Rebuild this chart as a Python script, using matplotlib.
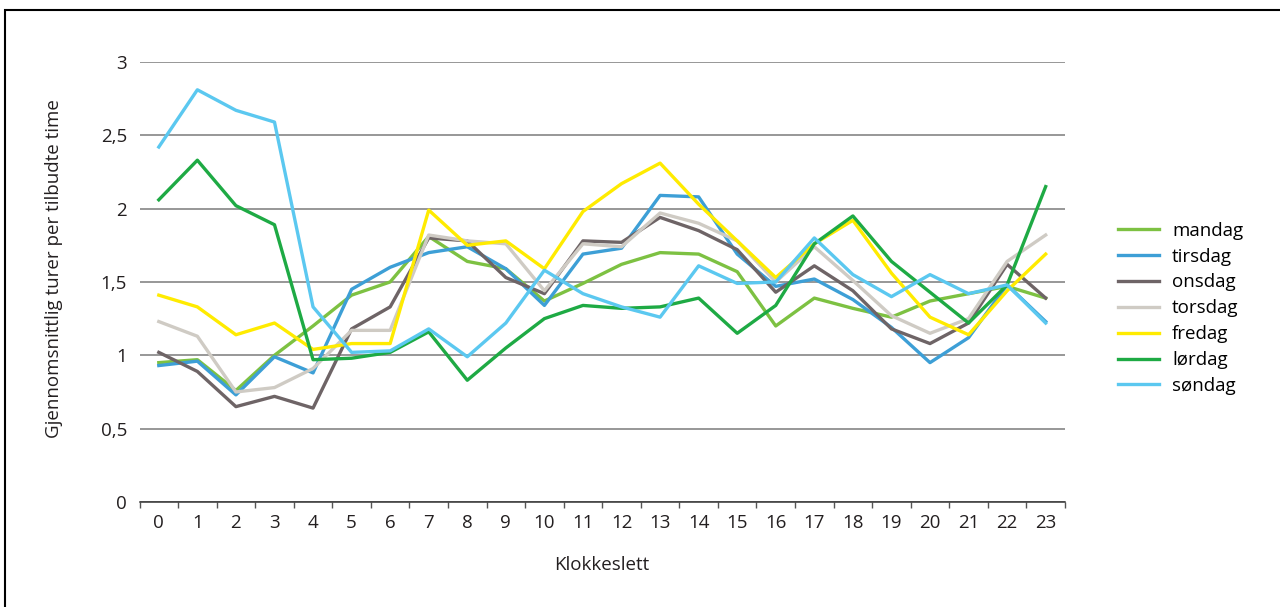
import matplotlib.pyplot as plt
from matplotlib.patches import Rectangle
from matplotlib.ticker import FixedLocator, FuncFormatter

plt.rcParams['font.family'] = ['Open Sans', 'DejaVu Sans']

hours = list(range(24))

mandag = [0.95, 0.97, 0.76, 1.00, 1.20, 1.41, 1.50, 1.81, 1.64, 1.59, 1.37, 1.49,
          1.62, 1.70, 1.69, 1.57, 1.20, 1.39, 1.32, 1.26, 1.37, 1.42, 1.47, 1.39]
tirsdag = [0.93, 0.96, 0.73, 0.99, 0.88, 1.45, 1.60, 1.70, 1.74, 1.59, 1.34, 1.69,
           1.73, 2.09, 2.08, 1.69, 1.47, 1.52, 1.38, 1.19, 0.95, 1.12, 1.48, 1.23]
onsdag = [1.02, 0.89, 0.65, 0.72, 0.64, 1.18, 1.33, 1.80, 1.78, 1.53, 1.42, 1.78,
          1.77, 1.94, 1.85, 1.72, 1.43, 1.61, 1.44, 1.18, 1.08, 1.22, 1.62, 1.39]
torsdag = [1.23, 1.13, 0.75, 0.78, 0.91, 1.17, 1.17, 1.82, 1.78, 1.76, 1.44, 1.76,
           1.74, 1.97, 1.90, 1.78, 1.50, 1.74, 1.51, 1.27, 1.15, 1.25, 1.64, 1.82]
fredag = [1.41, 1.33, 1.14, 1.22, 1.04, 1.08, 1.08, 1.99, 1.75, 1.78, 1.59, 1.98,
          2.17, 2.31, 2.03, 1.78, 1.53, 1.76, 1.92, 1.56, 1.26, 1.14, 1.44, 1.69]
lordag = [2.06, 2.33, 2.02, 1.89, 0.97, 0.98, 1.02, 1.16, 0.83, 1.05, 1.25, 1.34,
          1.32, 1.33, 1.39, 1.15, 1.34, 1.76, 1.95, 1.64, 1.43, 1.22, 1.48, 2.15]
sondag = [2.42, 2.81, 2.67, 2.59, 1.33, 1.02, 1.03, 1.18, 0.99, 1.22, 1.58, 1.42,
          1.33, 1.26, 1.61, 1.49, 1.50, 1.80, 1.55, 1.40, 1.55, 1.42, 1.48, 1.22]

series = [
    ("mandag", mandag, "#7dc142"),
    ("tirsdag", tirsdag, "#3d9fd6"),
    ("onsdag", onsdag, "#6e6466"),
    ("torsdag", torsdag, "#cfcbc4"),
    ("fredag", fredag, "#ffeb00"),
    ("lørdag", lordag, "#1eaa44"),
    ("søndag", sondag, "#5bc8f0"),
]

fs = 13.5
txt = "#231f20"

fig = plt.figure(figsize=(12.8, 6.07), dpi=100)
ax = fig.add_axes([0.109, 0.173, 0.723, 0.725])

for name, vals, col in series:
    ax.plot(hours, vals, color=col, lw=2.4, label=name)

ax.set_xlim(-0.5, 23.5)
ax.set_ylim(0, 3)
ax.set_yticks([0, 0.5, 1, 1.5, 2, 2.5, 3])
ax.yaxis.set_major_formatter(FuncFormatter(lambda v, p: f"{v:g}".replace(".", ",")))
ax.yaxis.grid(True, color="#7a7a7a", lw=1.1)
ax.set_axisbelow(True)
ax.tick_params(axis='y', length=0, pad=9, labelsize=fs, colors=txt)
ax.set_xticks(hours)
ax.xaxis.set_minor_locator(FixedLocator([h - 0.5 for h in range(25)]))
ax.tick_params(axis='x', which='major', length=0, pad=9, labelsize=fs, colors=txt)
ax.tick_params(axis='x', which='minor', length=4, width=1, color="#555555")

for s in ['left', 'right', 'top']:
    ax.spines[s].set_visible(False)
ax.spines['bottom'].set_color("#333333")
ax.spines['bottom'].set_linewidth(1.1)

ax.set_xlabel("Klokkeslett", fontsize=fs, color=txt, labelpad=17)
ax.set_ylabel("Gjennomsnittlig turer per tilbudte time", fontsize=fs, color=txt)
ax.yaxis.set_label_coords(-0.083, 0.53)

ax.legend(loc='center left', bbox_to_anchor=(1.057, 0.44), frameon=False,
          fontsize=fs, handlelength=2.2, handletextpad=0.7, labelspacing=0.42,
          borderpad=0, borderaxespad=0)

fig.add_artist(Rectangle((5 / 1280, -0.1), 1.1, 1.1 - 10 / 607,
                         transform=fig.transFigure, fill=False,
                         edgecolor="black", lw=1.5))

fig.savefig("out.png", dpi=100)
